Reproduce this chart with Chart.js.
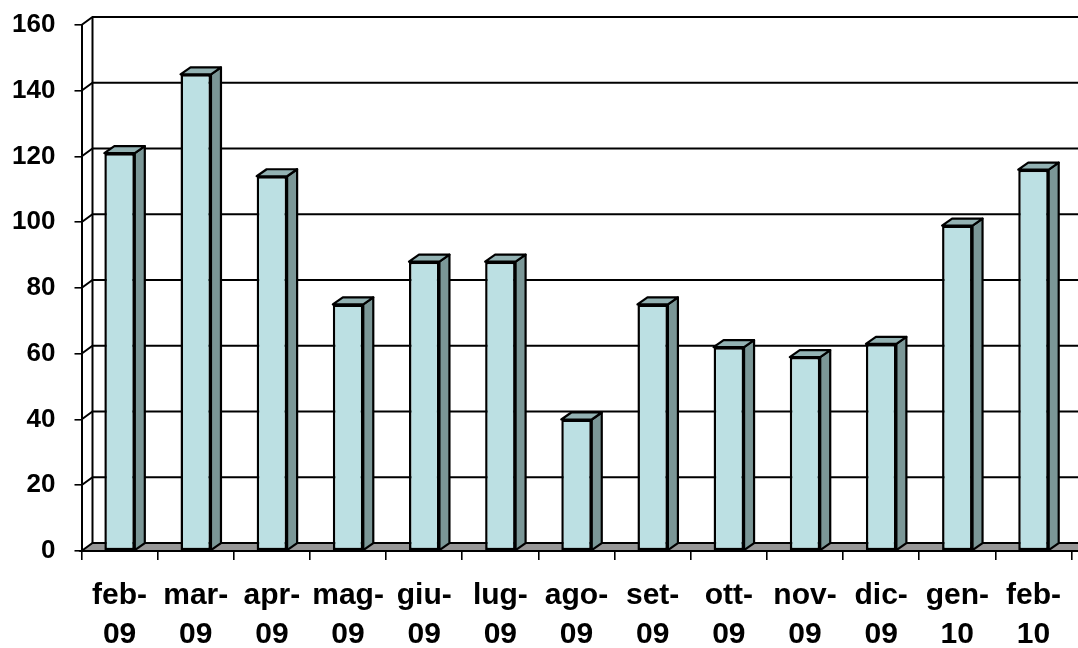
<!DOCTYPE html>
<html>
<head>
<meta charset="utf-8">
<script src="https://cdn.jsdelivr.net/npm/chart.js@4/dist/chart.umd.min.js"></script>
<style>
	html, body { margin: 0; padding: 0; background: #fff; }
	#wrap { width: 1078px; height: 648px; position: relative; }
</style>
</head>
<body>
<div id="wrap"><canvas id="months-chart" width="1078" height="648"></canvas></div>
<script>
var months = [["feb-", "09"], ["mar-", "09"], ["apr-", "09"], ["mag-", "09"], ["giu-", "09"], ["lug-", "09"], ["ago-", "09"], ["set-", "09"], ["ott-", "09"], ["nov-", "09"], ["dic-", "09"], ["gen-", "10"], ["feb-", "10"]];
var counts = [121, 145, 114, 75, 88, 88, 40, 75, 62, 59, 63, 99, 116];
var yTicks = [0, 20, 40, 60, 80, 100, 120, 140, 160];

var frontColor = "#bce0e3";
var sideColor = "#7b9797";
var topColor = "#93b2b3";
var floorColor = "#979797";

// depth of the walls and of the columns
var wallDx = 11, wallDy = 8;
var barDx = 10, barDy = 7;

var walls = {
	id: 'walls',
	beforeDatasetsDraw: function (chart) {
		var ctx = chart.ctx;
		var area = chart.chartArea;
		var y = chart.scales.y;
		var right = chart.width;
		ctx.save();
		ctx.strokeStyle = "#000";
		ctx.lineWidth = 2;

		// floor
		var base = y.getPixelForValue(0);
		ctx.beginPath();
		ctx.moveTo(area.left, base);
		ctx.lineTo(area.left + wallDx, base - wallDy);
		ctx.lineTo(right + 2, base - wallDy);
		ctx.lineTo(right + 2, base);
		ctx.closePath();
		ctx.fillStyle = floorColor;
		ctx.fill();
		ctx.stroke();

		// grid lines on the back wall
		yTicks.forEach(function (v) {
			if (v === 0) return;
			var py = y.getPixelForValue(v);
			ctx.beginPath();
			ctx.moveTo(area.left, py);
			ctx.lineTo(area.left + wallDx, py - wallDy);
			ctx.lineTo(right + 2, py - wallDy);
			ctx.stroke();
		});

		// back wall edge
		ctx.beginPath();
		ctx.moveTo(area.left + wallDx, y.getPixelForValue(160) - wallDy);
		ctx.lineTo(area.left + wallDx, base - wallDy);
		ctx.stroke();
		ctx.restore();
	},
	afterDatasetsDraw: function (chart) {
		var ctx = chart.ctx;
		var meta = chart.getDatasetMeta(0);
		ctx.save();
		ctx.strokeStyle = "#000";
		ctx.lineWidth = 2.2;
		ctx.lineJoin = "round";
		meta.data.forEach(function (bar) {
			var l = bar.x - bar.width / 2;
			var r = bar.x + bar.width / 2;
			var t = bar.y;
			var b = bar.base;

			ctx.beginPath();
			ctx.moveTo(r, t);
			ctx.lineTo(r + barDx, t - barDy);
			ctx.lineTo(r + barDx, b - barDy);
			ctx.lineTo(r, b);
			ctx.closePath();
			ctx.fillStyle = sideColor;
			ctx.fill();
			ctx.stroke();

			ctx.beginPath();
			ctx.moveTo(l, t);
			ctx.lineTo(l + barDx, t - barDy);
			ctx.lineTo(r + barDx, t - barDy);
			ctx.lineTo(r, t);
			ctx.closePath();
			ctx.fillStyle = topColor;
			ctx.fill();
			ctx.stroke();
		});
		ctx.restore();
	}
};

new Chart('months-chart', {
	type: 'bar',
	data: {
		labels: months,
		datasets: [
			{
				data: counts,
				backgroundColor: frontColor,
				borderColor: "#000",
				borderWidth: 2.5,
				borderSkipped: false,
				barPercentage: 0.4,
				categoryPercentage: 1
			}
		]
	},
	options: {
		responsive: false,
		animation: false,
		layout: {
			padding: { top: 25, right: 1, left: 0, bottom: 0 }
		},
		plugins: {
			legend: { display: false },
			tooltip: { enabled: false }
		},
		scales: {
			x: {
				grid: {
					offset: true,
					drawOnChartArea: false,
					drawTicks: true,
					tickLength: 9,
					color: "#000",
					lineWidth: 1.6
				},
				border: { display: true, color: "#000", width: 2 },
				ticks: {
					color: "#000",
					padding: 17,
					maxRotation: 0,
					autoSkip: false,
					font: { family: "'Liberation Sans', Arial, sans-serif", size: 30, weight: 'bold', lineHeight: 1.28 }
				},
				afterFit: function (scale) {
					scale.height = 97;
				}
			},
			y: {
				min: 0,
				max: 160,
				grid: {
					drawOnChartArea: false,
					drawTicks: true,
					tickLength: 7,
					color: "#000",
					lineWidth: 1.6
				},
				border: { display: true, color: "#000", width: 2 },
				ticks: {
					stepSize: 20,
					color: "#000",
					padding: 19,
					font: { family: "'Liberation Sans', Arial, sans-serif", size: 26, weight: 'bold' }
				},
				afterFit: function (scale) {
					scale.width = 81.5;
					scale.paddingTop = 0;
					scale.paddingBottom = 0;
				}
			}
		}
	},
	plugins: [walls]
});
</script>
</body>
</html>
